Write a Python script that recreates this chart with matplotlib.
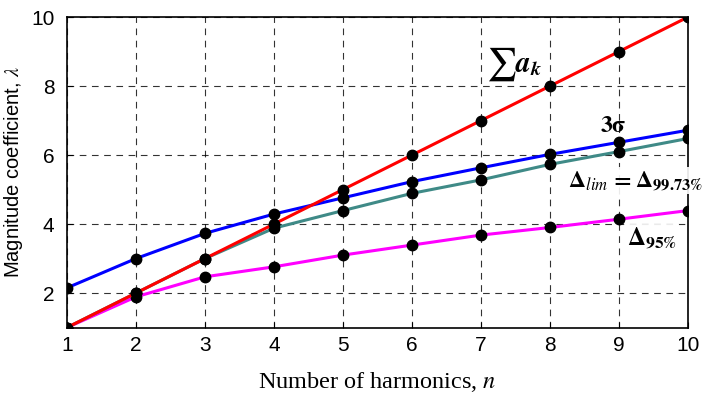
import numpy as np
import matplotlib.pyplot as plt

# datos
n = [1, 2, 3, 4, 5, 6, 7, 8, 9, 10]
suma_ak = [1, 2, 3, 4, 5, 6, 7, 8, 9, 10]
tres_sigma = [2.15, 3.0, 3.73, 4.29, 4.76, 5.23, 5.63, 6.02, 6.37, 6.72]
delta_lim = [1.0, 2.0, 3.0, 3.88, 4.39, 4.89, 5.28, 5.73, 6.1, 6.48]
delta_95 = [1.0, 1.89, 2.47, 2.76, 3.1, 3.39, 3.68, 3.9, 4.14, 4.39]

plt.rcParams['mathtext.fontset'] = 'stix'

fig = plt.figure(figsize=(7.04, 3.97), dpi=100)
ax = fig.add_axes([0.0952, 0.175, 0.882, 0.782])

mk = dict(marker='o', markersize=7.5, markerfacecolor='black', markeredgecolor='black', lw=2.2)
ax.plot(n, delta_95, color='#ff00ff', **mk)
ax.plot(n, tres_sigma, color='#0000ff', **mk)
ax.plot(n, delta_lim, color='#3f8a87', **mk)
ax.plot(n, suma_ak, color='#ff0000', **mk)

ax.set_xlim(1, 10)
ax.set_ylim(1, 10)
ax.set_xticks(n)
ax.set_yticks([2, 4, 6, 8, 10])
ax.grid(True, color='black', linestyle=(0, (6, 5)), linewidth=0.8, alpha=0.8)
for s in ax.spines.values():
    s.set_linewidth(1.2)
ax.tick_params(direction='in', length=4, labelsize=15)
ax.tick_params(axis='x', pad=6)
ax.tick_params(axis='y', pad=9)
for lbl in ax.get_xticklabels() + ax.get_yticklabels():
    lbl.set_family('Liberation Sans')

ax.set_ylabel(r'Magnitude coefficient, $\lambda$', fontsize=14.5, family='Liberation Sans')
ax.yaxis.set_label_coords(-0.068, 0.5)
ax.set_xlabel(r'Number of harmonics, $n$', fontsize=17.5, family='Liberation Serif', labelpad=11)

# etiquetas de las curvas
ax.text(7.08, 8.4, r'$\sum$', fontsize=24, va='baseline', clip_on=False)
ax.text(7.5, 8.41, r'$\boldsymbol{a}_{\boldsymbol{k}}$', fontsize=21, va='baseline', clip_on=False)
ax.text(8.72, 6.67, r'$\mathbf{3\sigma}$', fontsize=17, va='baseline', clip_on=False)
ax.text(8.26, 5.07, r'$\mathbf{\Delta}_{\mathit{lim}}\mathbf{\,=\Delta}_{\mathbf{99.73\%}}$',
        fontsize=17, va='baseline', clip_on=False,
        bbox=dict(facecolor='white', edgecolor='none', pad=1, alpha=0.9))
ax.text(9.12, 3.39, r'$\mathbf{\Delta}_{\mathbf{95\%}}$', fontsize=18, va='baseline', clip_on=False,
        bbox=dict(facecolor='white', edgecolor='none', pad=1, alpha=0.9))

plt.savefig('out.png', dpi=100)
